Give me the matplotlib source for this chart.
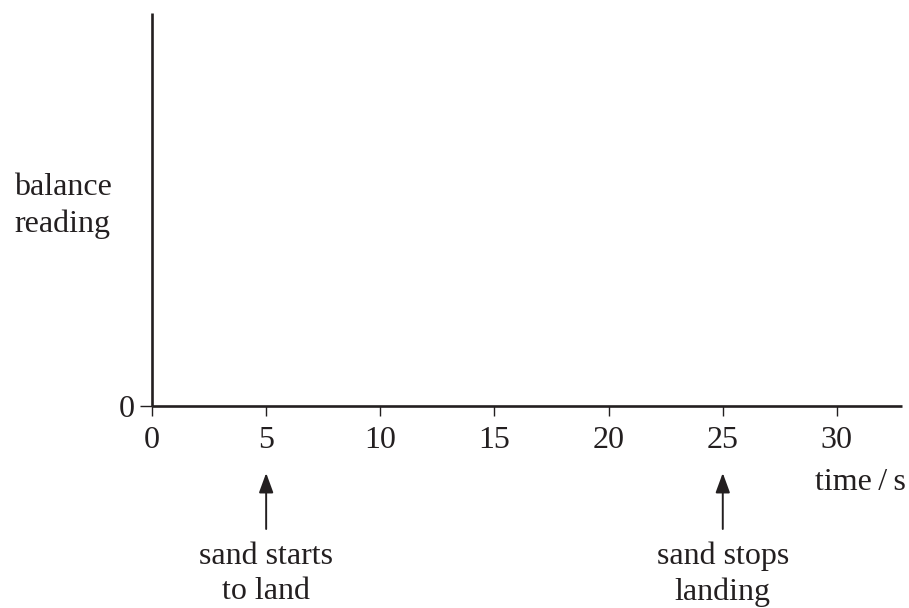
import matplotlib
matplotlib.use("Agg")
import matplotlib.pyplot as plt

# ---- data ----
x_ticks = [0, 5, 10, 15, 20, 25, 30]
x_tick_labels = ["0", "5", "10", "15", "20", "25", "30"]
y_ticks = [0]
y_tick_labels = ["0"]
x_max = 32.85
y_max = 1.0
event_times = [5, 25]
event_labels = ["sand starts\nto land", "sand stops\nlanding"]
x_label = "time\u2009/\u2009s"
y_label = "balance\nreading"

ink = "#231f20"
plt.rcParams["font.family"] = ["Liberation Serif", "DejaVu Serif"]
plt.rcParams["font.size"] = 23

fig = plt.figure(figsize=(9.09, 6.08), dpi=100)
W, H = 909, 608
ax = fig.add_axes([152 / W, (H - 406) / H, 750 / W, 393 / H])
ax.set_xlim(0, x_max)
ax.set_ylim(0, y_max)
for s in ["top", "right"]:
    ax.spines[s].set_visible(False)
for s in ["left", "bottom"]:
    ax.spines[s].set_linewidth(1.9)
    ax.spines[s].set_color(ink)
    ax.spines[s].set_capstyle("butt")

ax.set_xticks(x_ticks)
ax.set_xticklabels(x_tick_labels)
ax.set_yticks(y_ticks)
ax.set_yticklabels(y_tick_labels)
ax.tick_params(axis="x", direction="out", length=7.5, width=1.0, color=ink,
               labelcolor=ink, pad=7)
ax.tick_params(axis="y", direction="out", length=8.5, width=1.0, color=ink,
               labelcolor=ink, pad=4)

# axis labels
fig.text(906 / W, 1 - 483 / H, x_label, ha="right", va="center", color=ink)
fig.text(14 / W, 1 - 206 / H, y_label, ha="left", va="center", color=ink,
         linespacing=1.3)

# event arrows and labels
for t, lab in zip(event_times, event_labels):
    ax.annotate("", xy=(t, H - 473), xytext=(t, H - 529),
                xycoords=("data", "figure pixels"),
                textcoords=("data", "figure pixels"),
                arrowprops=dict(arrowstyle="-|>,head_length=0.6,head_width=0.22",
                                mutation_scale=20, lw=1.4, color=ink,
                                shrinkA=0, shrinkB=0),
                annotation_clip=False)
    ax.annotate(lab, xy=(t, H - 574), xycoords=("data", "figure pixels"),
                ha="center", va="center", color=ink, linespacing=1.3,
                annotation_clip=False)

fig.savefig("out.png", dpi=100)
